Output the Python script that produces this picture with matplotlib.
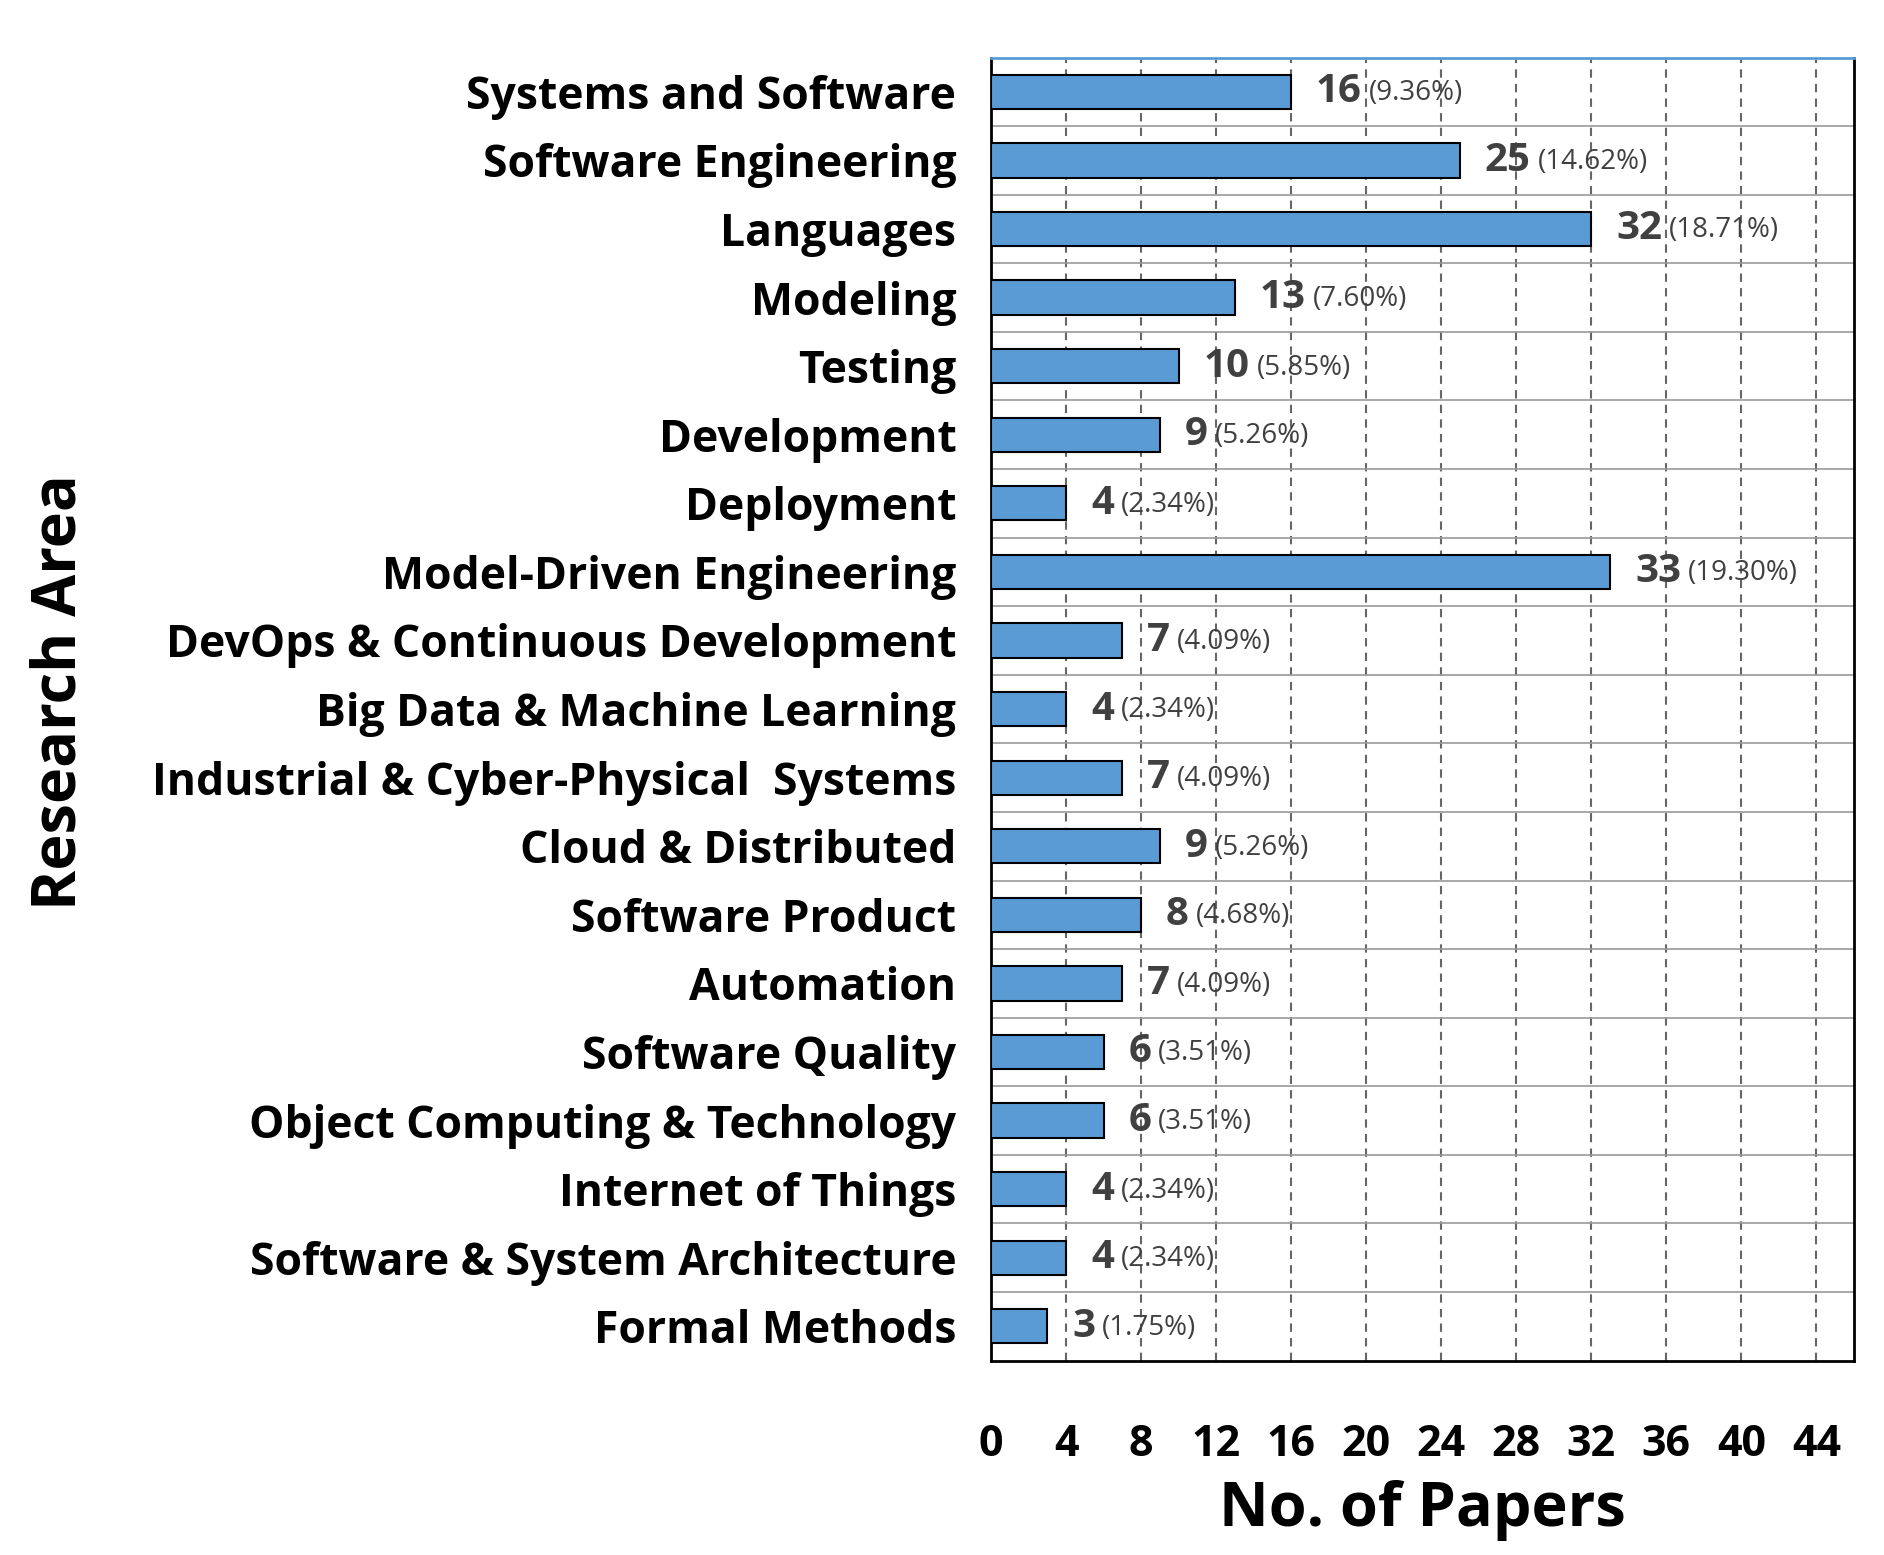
import matplotlib
matplotlib.use("Agg")
import matplotlib.pyplot as plt

categories = ["Systems and Software","Software Engineering","Languages","Modeling","Testing",
              "Development","Deployment","Model-Driven Engineering","DevOps & Continuous Development",
              "Big Data & Machine Learning","Industrial & Cyber-Physical  Systems","Cloud & Distributed",
              "Software Product","Automation","Software Quality","Object Computing & Technology",
              "Internet of Things","Software & System Architecture","Formal Methods"]
values = [16,25,32,13,10,9,4,33,7,4,7,9,8,7,6,6,4,4,3]
percents = ["9.36%","14.62%","18.71%","7.60%","5.85%","5.26%","2.34%","19.30%","4.09%","2.34%",
            "4.09%","5.26%","4.68%","4.09%","3.51%","3.51%","2.34%","2.34%","1.75%"]
xticks = [0,4,8,12,16,20,24,28,32,36,40,44]

plt.rcParams['font.family'] = ['Open Sans', 'DejaVu Sans']
fig = plt.figure(figsize=(18.84, 15.55), dpi=100)
ax = fig.add_axes([0.526, 0.125, 0.458, 0.838])
n = len(categories)
y = list(range(n))
ax.barh(y, values, height=0.5, color="#5B9BD5", edgecolor="black", linewidth=1.5, zorder=3)
ax.set_ylim(n - 0.5, -0.5)
ax.set_xlim(0, 46)
ax.set_yticks(y)
ax.set_yticklabels(categories, fontsize=32, fontweight='bold')
ax.set_xticks(xticks)
ax.set_xticklabels([str(t) for t in xticks], fontsize=31, fontweight='bold')
ax.tick_params(axis='both', length=0)
ax.tick_params(axis='x', pad=45)
ax.tick_params(axis='y', pad=25)
for xt in xticks[1:]:
    ax.axvline(xt, color='#666666', linestyle=(0, (4, 3)), linewidth=1.5, zorder=1)
for k in range(n - 1):
    ax.axhline(k + 0.5, color='#999999', linewidth=1.2, zorder=1)
for s in ['left', 'right', 'bottom']:
    ax.spines[s].set_color('black'); ax.spines[s].set_linewidth(2)
ax.spines['top'].set_color('#5B9BD5'); ax.spines['top'].set_linewidth(2)
ax.set_xlabel("No. of Papers", fontsize=44, fontweight='bold', labelpad=10)
fig.text(0.032, 0.555, "Research Area", rotation=90, fontsize=44, fontweight='bold',
         ha='center', va='center')

fig.canvas.draw()
r = fig.canvas.get_renderer()
for yi, v, p in zip(y, values, percents):
    t = ax.annotate(str(v), (v, yi), xytext=(18, 0), textcoords='offset points',
                    fontsize=29, fontweight='bold', color='#404040', va='center', ha='left')
    bb = t.get_window_extent(r)
    wpt = bb.width * 72 / fig.dpi
    ax.annotate("(" + p + ")", (v, yi), xytext=(18 + wpt + 5, -1), textcoords='offset points',
                fontsize=20, color='#404040', va='center', ha='left')
fig.savefig("out.png", dpi=100)
